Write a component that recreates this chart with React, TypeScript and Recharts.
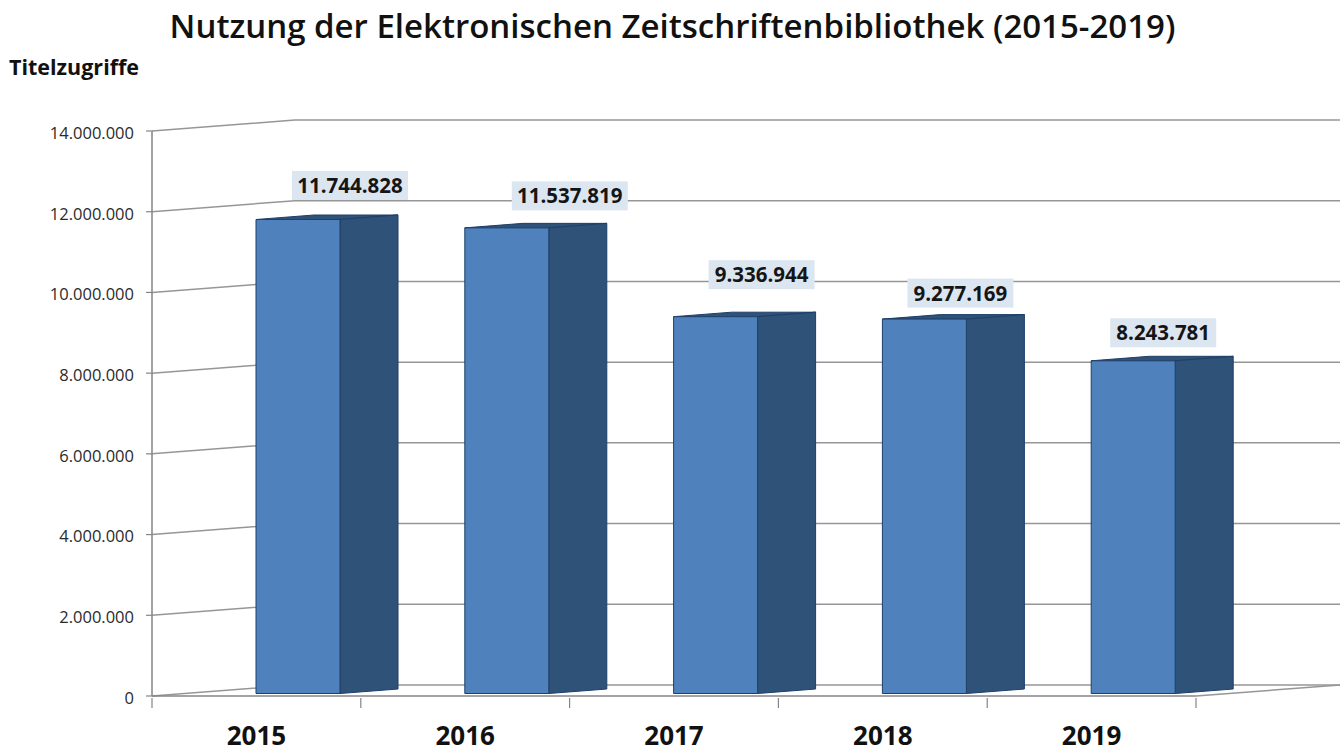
import React from "react";
import { BarChart, Bar, XAxis, YAxis, CartesianGrid, LabelList } from "recharts";

const years = ["2015", "2016", "2017", "2018", "2019"];
const accesses = [11744828, 11537819, 9336944, 9277169, 8243781];
const yTicks = [0, 2000000, 4000000, 6000000, 8000000, 10000000, 12000000, 14000000];

const rows = years.map((year, i) => ({ year, accesses: accesses[i] }));

// Hand-placed value labels, relative to the top middle of each bar's front face.
const labelShiftX = [52, 63, 46, 36, 30];
const labelShiftY = [-37, -35, -45, -29, -31];

const WIDTH = 1340;
const HEIGHT = 749;
const PLOT_LEFT = 152;
const PLOT_RIGHT = 1196;
const PLOT_TOP = 131;
const PLOT_BOTTOM = 696;
const BAND = (PLOT_RIGHT - PLOT_LEFT) / years.length;

// Depth of the pseudo-3D room and of the boxes standing in it.
const WALL_DX = 143;
const WALL_DY = 11;
const BOX_SHIFT_X = 42;
const BOX_SHIFT_Y = 2.5;
const BOX_DX = 58;
const BOX_DY = 4.5;

const GRID = "#969696";
const AXIS = "#858585";
const FRONT = "#4f81bd";
const SIDE = "#2f5279";
const EDGE = "#1f3f68";

const FONT = "'Open Sans', 'Noto Sans', sans-serif";
const formatDe = (v: number) => String(v).replace(/\B(?=(\d{3})+(?!\d))/g, ".");

function WallLine(props: any) {
  const { y1 } = props;
  const y = Number(y1);
  const isFloor = Math.abs(y - PLOT_BOTTOM) < 1;
  return (
    <g fill="none" stroke={GRID} strokeWidth={1.5}>
      <polyline points={`${PLOT_LEFT},${y} ${PLOT_LEFT + WALL_DX},${y - WALL_DY} ${WIDTH},${y - WALL_DY}`} />
      {isFloor && <line x1={PLOT_RIGHT} y1={y} x2={WIDTH} y2={y - WALL_DY} />}
    </g>
  );
}

function Box(props: any) {
  const { x, y, width, height } = props;
  const left = x + BOX_SHIFT_X;
  const right = left + width;
  const top = y - BOX_SHIFT_Y;
  const bottom = top + height;
  return (
    <g stroke={EDGE} strokeWidth={1} strokeLinejoin="round">
      <polygon
        points={`${left},${top} ${left + BOX_DX},${top - BOX_DY} ${right + BOX_DX},${top - BOX_DY} ${right},${top}`}
        fill={SIDE}
      />
      <polygon
        points={`${right},${top} ${right + BOX_DX},${top - BOX_DY} ${right + BOX_DX},${bottom - BOX_DY} ${right},${bottom}`}
        fill={SIDE}
      />
      <rect x={left} y={top} width={width} height={height} fill={FRONT} />
    </g>
  );
}

function ValueLabel(props: any) {
  const { x, y, width, index, value } = props;
  const cx = x + BOX_SHIFT_X + width / 2 + labelShiftX[index];
  const cy = y + labelShiftY[index];
  const boxWidth = Number(value) >= 10000000 ? 116 : 106;
  return (
    <g>
      <rect x={cx - boxWidth / 2} y={cy - 14} width={boxWidth} height={29} fill="#dce6f1" />
      <text
        x={cx}
        y={cy}
        textAnchor="middle"
        dominantBaseline="central"
        fontFamily={FONT}
        fontWeight={700}
        fontSize={20.5}
        fill="#151515"
      >
        {formatDe(Number(value))}
      </text>
    </g>
  );
}

function YearTick(props: any) {
  const { x, y, index, payload } = props;
  return (
    <g>
      <line x1={x - BAND / 2} y1={y} x2={x - BAND / 2} y2={y + 10} stroke={AXIS} strokeWidth={1.2} />
      {index === years.length - 1 && (
        <line x1={x + BAND / 2} y1={y} x2={x + BAND / 2} y2={y + 10} stroke={AXIS} strokeWidth={1.2} />
      )}
      <text x={x} y={y + 37} textAnchor="middle" dominantBaseline="central" fontFamily={FONT} fontWeight={700} fontSize={26} fill="#111">
        {payload.value}
      </text>
    </g>
  );
}

export default function App() {
  return (
    <div style={{ position: "absolute", left: 0, top: 0, width: WIDTH, height: HEIGHT, background: "#fff", overflow: "hidden" }}>
      <div
        style={{
          position: "absolute",
          left: 0,
          width: 1345,
          top: 5,
          textAlign: "center",
          fontFamily: FONT,
          fontWeight: 600,
          fontSize: 33,
          lineHeight: "42px",
          color: "#111",
          whiteSpace: "nowrap",
        }}
      >
        Nutzung der Elektronischen Zeitschriftenbibliothek (2015-2019)
      </div>
      <div
        style={{
          position: "absolute",
          left: 9,
          top: 55,
          fontFamily: FONT,
          fontWeight: 700,
          fontSize: 21.5,
          lineHeight: "24px",
          color: "#111",
        }}
      >
        Titelzugriffe
      </div>
      <BarChart
        width={WIDTH}
        height={HEIGHT}
        data={rows}
        margin={{ top: PLOT_TOP, right: WIDTH - PLOT_RIGHT, bottom: 0, left: 0 }}
        barSize={84}
      >
        <CartesianGrid vertical={false} horizontal={(p: any) => <WallLine key={p.key} {...p} />} />
        <XAxis
          dataKey="year"
          interval={0}
          height={HEIGHT - PLOT_BOTTOM}
          tickSize={0}
          axisLine={{ stroke: AXIS, strokeWidth: 1.5 }}
          tickLine={false}
          tick={(p: any) => <YearTick {...p} />}
        />
        <YAxis
          width={PLOT_LEFT}
          domain={[0, 14000000]}
          ticks={yTicks}
          interval={0}
          tickFormatter={formatDe}
          tickSize={6}
          tickMargin={12}
          axisLine={{ stroke: AXIS, strokeWidth: 1.5 }}
          tickLine={{ stroke: AXIS, strokeWidth: 1.2 }}
          tick={{ fontFamily: FONT, fontSize: 16.5, fill: "#2a2a2a", dy: 2 }}
        />
        <Bar dataKey="accesses" isAnimationActive={false} shape={(p: any) => <Box {...p} />}>
          <LabelList dataKey="accesses" content={(p: any) => <ValueLabel {...p} />} />
        </Bar>
      </BarChart>
    </div>
  );
}
